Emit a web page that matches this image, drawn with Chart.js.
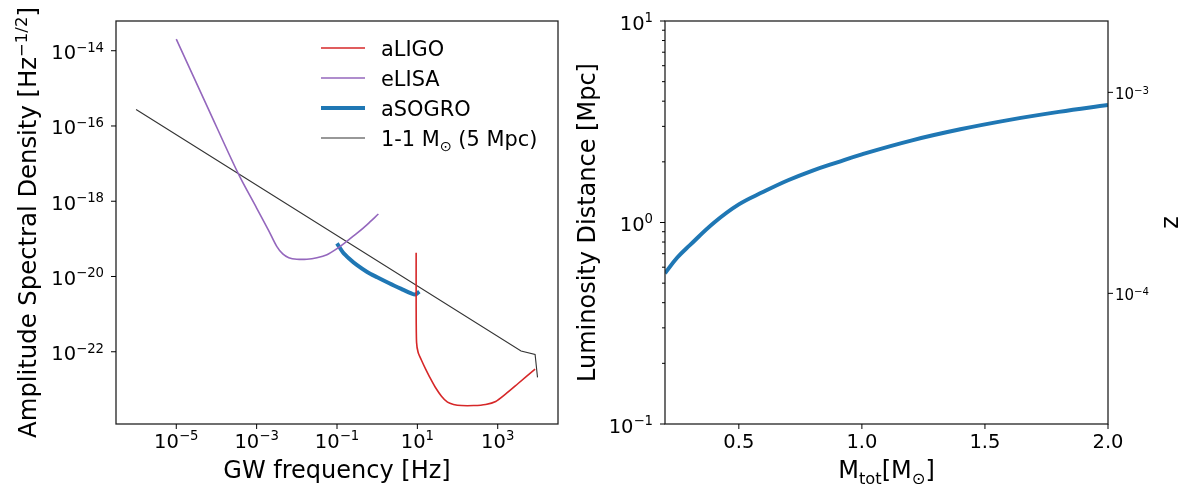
<!DOCTYPE html>
<html>
<head>
<meta charset="utf-8">
<script src="https://cdn.jsdelivr.net/npm/chart.js@4.4.1/dist/chart.umd.min.js"></script>
<style>
  html, body { margin: 0; padding: 0; background: #fff; }
  #wrap { position: relative; width: 1184px; height: 484px; }
  #wrap canvas { position: absolute; left: 0; top: 0; }
</style>
</head>
<body>
<div id="wrap">
  <canvas id="asd" width="1184" height="484"></canvas>
  <canvas id="dist" width="1184" height="484"></canvas>
</div>
<script>
/* ── data: left panel (log10 of frequency [Hz] / ASD) ── */
const ligoLogF  = [0.97, 0.97, 0.98, 1.02, 1.1, 1.2, 1.3, 1.45, 1.6, 1.75, 1.9, 2.1, 2.4, 2.7, 2.95, 3.2, 3.5, 3.93];
const ligoLogA  = [-19.37, -20.8, -21.75, -22.02, -22.22, -22.45, -22.66, -22.95, -23.18, -23.34, -23.40, -23.43, -23.43, -23.40, -23.32, -23.12, -22.85, -22.46];

const lisaLogF  = [-5.0, -4.2, -3.46, -3.0, -2.7, -2.5, -2.35, -2.2, -2.0, -1.75, -1.5, -1.25, -1.0, -0.75, -0.5, -0.25, 0.03];
const lisaLogA  = [-13.69, -15.55, -17.26, -18.18, -18.78, -19.2, -19.4, -19.5, -19.54, -19.54, -19.5, -19.42, -19.26, -19.06, -18.85, -18.62, -18.34];

const sogroLogF = [-1.0, -0.85, -0.7, -0.5, -0.25, 0.0, 0.3, 0.6, 0.85, 0.95, 1.05];
const sogroLogA = [-19.12, -19.36, -19.52, -19.7, -19.88, -20.02, -20.18, -20.33, -20.45, -20.48, -20.40];

const bbhLogF   = [-6.0, 3.58, 3.93, 3.99];
const bbhLogA   = [-15.56, -21.98, -22.07, -22.68];

const freqTicks = [1e-5, 1e-3, 1e-1, 1e1, 1e3];
const asdTicks  = [1e-14, 1e-16, 1e-18, 1e-20, 1e-22];

/* ── data: right panel ── */
const massTot   = [0.2, 0.25, 0.3, 0.4, 0.5, 0.6, 0.7, 0.8, 0.9, 1.0, 1.2, 1.4, 1.6, 1.8, 2.0];
const distMpc   = [0.56, 0.67, 0.77, 1.0, 1.23, 1.42, 1.62, 1.81, 1.99, 2.18, 2.55, 2.9, 3.23, 3.54, 3.83];

const massTicks     = [0.5, 1.0, 1.5, 2.0];
const distTicks     = [0.1, 1, 10];
const distMinor     = [0.2, 0.3, 0.4, 0.5, 0.6, 0.7, 0.8, 0.9, 2, 3, 4, 5, 6, 7, 8, 9];
const redshiftTicks = [1e-3, 1e-4];

const FONT = '"DejaVu Sans", sans-serif';
const INK = '#000';

const pts = (lx, ly) => lx.map((v, i) => ({ x: 10 ** v, y: 10 ** ly[i] }));

/* tiny rich text: ^{..} superscript, _{..} subscript */
function richParts(str) {
  const parts = [], re = /([\^_])\{([^}]*)\}/g;
  let last = 0, m;
  while ((m = re.exec(str))) {
    if (m.index > last) parts.push({ t: str.slice(last, m.index), k: '' });
    parts.push({ t: m[2], k: m[1] });
    last = re.lastIndex;
  }
  if (last < str.length) parts.push({ t: str.slice(last), k: '' });
  return parts;
}

function drawRich(ctx, str, x, y, size, align) {
  const parts = richParts(str);
  let w = 0;
  parts.forEach(p => {
    p.s = p.k ? size * 0.68 : size;
    ctx.font = p.s + 'px ' + FONT;
    p.w = ctx.measureText(p.t).width;
    w += p.w;
  });
  let cx = align === 'center' ? x - w / 2 : align === 'right' ? x - w : x;
  ctx.textAlign = 'left';
  ctx.textBaseline = 'alphabetic';
  parts.forEach(p => {
    ctx.font = p.s + 'px ' + FONT;
    const dy = p.k === '^' ? -size * 0.39 : p.k === '_' ? size * 0.24 : 0;
    ctx.fillText(p.t, cx, y + dy);
    cx += p.w;
  });
}

const pow10 = v => {
  const e = Math.round(Math.log10(v));
  return '10^{' + (e < 0 ? '\u2212' + (-e) : e) + '}';
};

function frame(ctx, a) {
  ctx.lineWidth = 1.3;
  ctx.strokeStyle = '#222';
  ctx.strokeRect(a.left, a.top, a.right - a.left, a.bottom - a.top);
}

function tick(ctx, x1, y1, x2, y2) {
  ctx.lineWidth = 1;
  ctx.strokeStyle = INK;
  ctx.beginPath(); ctx.moveTo(x1, y1); ctx.lineTo(x2, y2); ctx.stroke();
}

function vlabel(ctx, str, x, y, size) {
  ctx.save();
  ctx.translate(x, y);
  ctx.rotate(-Math.PI / 2);
  drawRich(ctx, str, 0, 0, size, 'center');
  ctx.restore();
}

/* ── left panel decorations ── */
const asdDecor = {
  id: 'asdDecor',
  afterDraw(chart) {
    const { ctx, chartArea: a, scales: { x, y } } = chart;
    ctx.save();
    ctx.fillStyle = INK;
    frame(ctx, a);
    freqTicks.forEach(v => {
      const px = x.getPixelForValue(v);
      tick(ctx, px, a.bottom, px, a.bottom + 5);
      drawRich(ctx, pow10(v), px, 448, 19.5, 'center');
    });
    asdTicks.forEach(v => {
      const py = y.getPixelForValue(v);
      tick(ctx, a.left - 5, py, a.left, py);
      drawRich(ctx, pow10(v), a.left - 12, py + 8.5, 19.5, 'right');
    });
    drawRich(ctx, 'GW frequency [Hz]', (a.left + a.right) / 2, 478, 24, 'center');
    vlabel(ctx, 'Amplitude Spectral Density [Hz^{\u22121/2}]', 36, (a.top + a.bottom) / 2, 24.3);

    // legend, no frame
    chart.data.datasets.forEach((ds, i) => {
      const ly = 48 + 30 * i;
      ctx.strokeStyle = ds.borderColor;
      ctx.lineWidth = ds.borderWidth;
      ctx.beginPath(); ctx.moveTo(321, ly); ctx.lineTo(365, ly); ctx.stroke();
      ctx.fillStyle = INK;
      drawRich(ctx, ds.label, 381, ly + 7.5, 20.9, 'left');
    });
    ctx.restore();
  }
};

/* ── right panel decorations ── */
const distDecor = {
  id: 'distDecor',
  afterDraw(chart) {
    const { ctx, chartArea: a, scales: { x, y, z } } = chart;
    ctx.save();
    ctx.fillStyle = INK;
    frame(ctx, a);
    massTicks.forEach(v => {
      const px = x.getPixelForValue(v);
      tick(ctx, px, a.bottom, px, a.bottom + 5);
      drawRich(ctx, v.toFixed(1), px, 448, 19.5, 'center');
    });
    distTicks.forEach(v => {
      const py = y.getPixelForValue(v);
      tick(ctx, a.left - 5, py, a.left, py);
      drawRich(ctx, pow10(v), a.left - 12, py + 8.5, 19.5, 'right');
    });
    distMinor.forEach(v => {
      const py = y.getPixelForValue(v);
      tick(ctx, a.left - 3, py, a.left, py);
    });
    redshiftTicks.forEach(v => {
      const py = z.getPixelForValue(v);
      tick(ctx, a.right, py, a.right + 5, py);
      drawRich(ctx, pow10(v), a.right + 7, py + 7, 15, 'left');
    });
    drawRich(ctx, 'M_{tot}[M_{\u2299}]', (a.left + a.right) / 2, 478, 24, 'center');
    vlabel(ctx, 'Luminosity Distance [Mpc]', 595, (a.top + a.bottom) / 2, 24);
    vlabel(ctx, 'z', 1178, (a.top + a.bottom) / 2, 24);
    ctx.restore();
  }
};

const hidden = { ticks: { display: false }, grid: { display: false }, border: { display: false } };
const quiet = { legend: { display: false }, tooltip: { enabled: false } };

new Chart(document.getElementById('asd'), {
  type: 'scatter',
  data: {
    datasets: [
      { label: 'aLIGO', data: pts(ligoLogF, ligoLogA), borderColor: '#d62728', borderWidth: 1.6, tension: 0.25 },
      { label: 'eLISA', data: pts(lisaLogF, lisaLogA), borderColor: '#9467bd', borderWidth: 1.6, tension: 0.3 },
      { label: 'aSOGRO', data: pts(sogroLogF, sogroLogA), borderColor: '#1f77b4', borderWidth: 4, tension: 0.3 },
      { label: '1-1 M_{\u2299} (5 Mpc)', data: pts(bbhLogF, bbhLogA), borderColor: '#333', borderWidth: 1.1, tension: 0 }
    ].map(d => ({ ...d, showLine: true, pointRadius: 0, borderCapStyle: 'butt' }))
  },
  options: {
    responsive: false,
    animation: false,
    layout: { padding: { top: 21, right: 1184 - 558, left: 0, bottom: 0 } },
    plugins: quiet,
    scales: {
      x: { type: 'logarithmic', min: 10 ** -6.5, max: 10 ** 4.5, ...hidden, afterFit: s => { s.height = 60; } },
      y: { type: 'logarithmic', min: 10 ** -23.92, max: 10 ** -13.21, ...hidden, afterFit: s => { s.width = 116; } }
    }
  },
  plugins: [asdDecor]
});

new Chart(document.getElementById('dist'), {
  type: 'scatter',
  data: {
    datasets: [{
      label: 'D_L', data: massTot.map((m, i) => ({ x: m, y: distMpc[i] })),
      borderColor: '#1f77b4', borderWidth: 4, showLine: true, pointRadius: 0,
      tension: 0.4, yAxisID: 'y'
    }]
  },
  options: {
    responsive: false,
    animation: false,
    layout: { padding: { top: 21, right: 0, left: 0, bottom: 0 } },
    plugins: quiet,
    scales: {
      x: { type: 'linear', min: 0.2, max: 2.0, ...hidden, afterFit: s => { s.height = 60; } },
      y: { type: 'logarithmic', position: 'left', min: 0.1, max: 10, ...hidden, afterFit: s => { s.width = 665; } },
      z: { type: 'logarithmic', position: 'right', min: 10 ** -4.65, max: 10 ** -2.645, ...hidden, afterFit: s => { s.width = 1184 - 1108; } }
    }
  },
  plugins: [distDecor]
});
</script>
</body>
</html>
